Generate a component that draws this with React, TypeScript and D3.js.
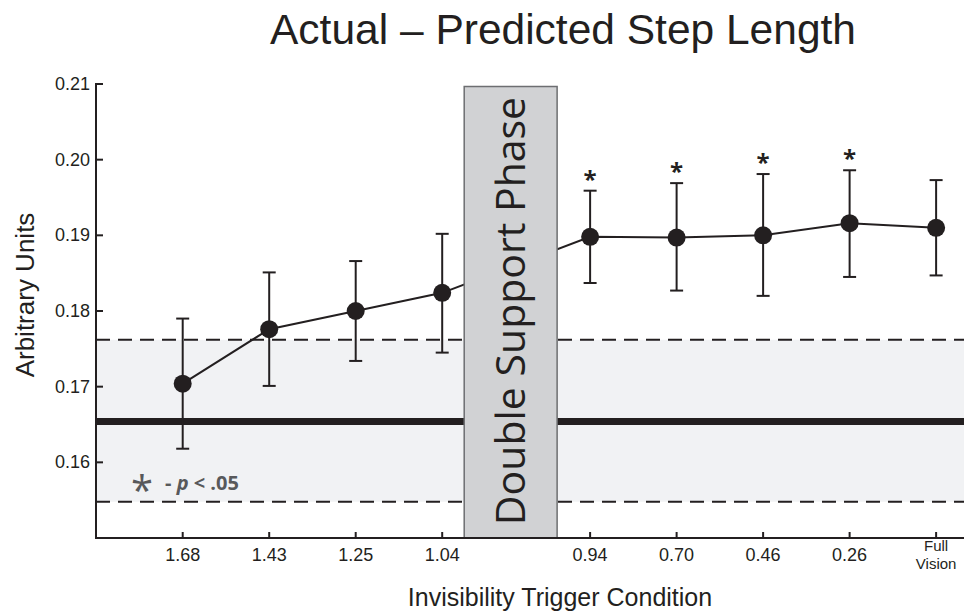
import React, { useEffect, useRef } from "react";
import * as d3 from "d3";

// trigger conditions on the x axis
const conditions = ["1.68", "1.43", "1.25", "1.04", "0.94", "0.70", "0.46", "0.26", "Full Vision"];
// mean actual - predicted step length
const means = [0.1704, 0.1776, 0.18, 0.1824, 0.1898, 0.1897, 0.19, 0.1916, 0.191];
// error bar ends
const errHigh = [0.179, 0.1851, 0.1866, 0.1902, 0.1959, 0.1969, 0.1981, 0.1986, 0.1973];
const errLow = [0.1618, 0.1701, 0.1734, 0.1745, 0.1837, 0.1827, 0.182, 0.1845, 0.1847];
const significant = [false, false, false, false, true, true, true, true, false];

// baseline band
const baselineMean = 0.1654;
const baselineHigh = 0.1762;
const baselineLow = 0.1548;

const yTicks = [0.16, 0.17, 0.18, 0.19, 0.2, 0.21];

const FONT = "'Liberation Sans', Arial, Helvetica, sans-serif";
const INK = "#231f20";

function App() {
  const svgRef = useRef<SVGSVGElement>(null);
  const width = 964;
  const height = 612;

  useEffect(() => {
    if (!svgRef.current) return;
    const svg = d3.select(svgRef.current);
    svg.selectAll("*").remove();

    const left = 96;
    const right = 964;
    const top = 84;
    const bottom = 538;

    // slot positions: a gap for the double support phase after the 4th condition
    const gap = 0.71;
    const slot = (i: number) => i + (i >= 4 ? gap : 0);

    const x = d3.scaleLinear().domain([0, 1]).range([182.7, 269.2]);
    const y = d3.scaleLinear().domain([0.15, 0.21]).range([bottom, top]);

    // shaded band
    svg
      .append("rect")
      .attr("x", left)
      .attr("y", y(baselineHigh))
      .attr("width", right - left)
      .attr("height", y(baselineLow) - y(baselineHigh))
      .attr("fill", "#f1f2f4");

    // dashed bounds
    [baselineHigh, baselineLow].forEach((v) => {
      svg
        .append("line")
        .attr("x1", left)
        .attr("x2", right)
        .attr("y1", y(v))
        .attr("y2", y(v))
        .attr("stroke", INK)
        .attr("stroke-width", 2)
        .attr("stroke-dasharray", "14,8");
    });

    // thick baseline
    svg
      .append("line")
      .attr("x1", left)
      .attr("x2", right)
      .attr("y1", y(baselineMean))
      .attr("y2", y(baselineMean))
      .attr("stroke", INK)
      .attr("stroke-width", 7);

    // legend
    svg
      .append("text")
      .attr("x", 142)
      .attr("y", 505)
      .attr("text-anchor", "middle")
      .style("font-family", "'Open Sans', sans-serif")
      .style("font-size", "40px")
      .style("fill", "#58595b")
      .text("*");
    const leg = svg
      .append("text")
      .attr("x", 165)
      .attr("y", 490)
      .style("font-family", "'Open Sans', sans-serif")
      .style("font-size", "20px")
      .style("font-weight", "bold")
      .style("fill", "#58595b");
    leg.append("tspan").text("- ");
    leg.append("tspan").style("font-style", "italic").text("p");
    leg.append("tspan").text(" < .05");

    // connecting line
    const line = d3
      .line<number>()
      .x((_, i) => x(slot(i)))
      .y((d) => y(d));
    svg
      .append("path")
      .attr("d", line(means))
      .attr("fill", "none")
      .attr("stroke", INK)
      .attr("stroke-width", 2);

    // error bars
    means.forEach((_, i) => {
      const cx = x(slot(i));
      const g = svg.append("g").attr("stroke", INK).attr("stroke-width", 2);
      g.append("line").attr("x1", cx).attr("x2", cx).attr("y1", y(errHigh[i])).attr("y2", y(errLow[i]));
      [errHigh[i], errLow[i]].forEach((v) => {
        g.append("line")
          .attr("x1", cx - 6.5)
          .attr("x2", cx + 6.5)
          .attr("y1", y(v))
          .attr("y2", y(v));
      });
    });

    // points
    svg
      .selectAll(".pt")
      .data(means)
      .enter()
      .append("circle")
      .attr("class", "pt")
      .attr("cx", (_, i) => x(slot(i)))
      .attr("cy", (d) => y(d))
      .attr("r", 9)
      .attr("fill", INK);

    // significance stars
    svg
      .selectAll(".star")
      .data(means.map((_, i) => i).filter((i) => significant[i]))
      .enter()
      .append("text")
      .attr("class", "star")
      .attr("x", (i) => x(slot(i)))
      .attr("y", (i) => y(errHigh[i]) - 3)
      .attr("text-anchor", "middle")
      .style("font-family", "'Open Sans', sans-serif")
      .style("font-size", "24px")
      .style("font-weight", "bold")
      .style("fill", INK)
      .text("*");

    // double support phase box
    const boxL = x(3) + 22;
    const boxR = x(slot(4)) - 33;
    svg
      .append("rect")
      .attr("x", boxL)
      .attr("y", 86.5)
      .attr("width", boxR - boxL)
      .attr("height", bottom - 86.5)
      .attr("fill", "#d1d2d4")
      .attr("stroke", "#6d6e71")
      .attr("stroke-width", 1.5);
    svg
      .append("text")
      .attr("transform", `translate(${(boxL + boxR) / 2 + 14}, 311) rotate(-90)`)
      .attr("text-anchor", "middle")
      .style("font-family", "'Open Sans', sans-serif")
      .style("font-size", "41px")
      .style("fill", INK)
      .text("Double Support Phase");

    // y axis
    svg
      .append("line")
      .attr("x1", left)
      .attr("x2", left)
      .attr("y1", top - 1)
      .attr("y2", bottom)
      .attr("stroke", INK)
      .attr("stroke-width", 2);
    yTicks.forEach((t) => {
      svg
        .append("line")
        .attr("x1", left)
        .attr("x2", left + 7)
        .attr("y1", y(t))
        .attr("y2", y(t))
        .attr("stroke", INK)
        .attr("stroke-width", 2);
      svg
        .append("text")
        .attr("x", left - 6)
        .attr("y", y(t) + 6)
        .attr("text-anchor", "end")
        .style("font-family", FONT)
        .style("font-size", "18px")
        .style("fill", INK)
        .text(t.toFixed(2));
    });

    // x axis
    svg
      .append("line")
      .attr("x1", left - 1)
      .attr("x2", right)
      .attr("y1", bottom)
      .attr("y2", bottom)
      .attr("stroke", INK)
      .attr("stroke-width", 2);
    conditions.forEach((c, i) => {
      const cx = x(slot(i));
      svg
        .append("line")
        .attr("x1", cx)
        .attr("x2", cx)
        .attr("y1", bottom)
        .attr("y2", bottom - 6)
        .attr("stroke", INK)
        .attr("stroke-width", 2);
      const words = c.split(" ");
      if (words.length === 1) {
        svg
          .append("text")
          .attr("text-anchor", "middle")
          .style("font-family", FONT)
          .style("font-size", "18px")
          .style("fill", INK)
          .attr("x", cx)
          .attr("y", bottom + 23)
          .text(c);
      } else {
        // stacked two-line label
        words.forEach((w, k) => {
          svg
            .append("text")
            .attr("text-anchor", "middle")
            .style("font-family", FONT)
            .style("font-size", "15px")
            .style("fill", INK)
            .attr("x", cx)
            .attr("y", bottom + 13 + k * 17.5)
            .text(w);
        });
      }
    });

    // titles
    svg
      .append("text")
      .attr("x", 563)
      .attr("y", 44)
      .attr("text-anchor", "middle")
      .style("font-family", FONT)
      .style("font-size", "42.5px")
      .style("fill", INK)
      .text("Actual \u2013 Predicted Step Length");

    svg
      .append("text")
      .attr("x", 560)
      .attr("y", 606)
      .attr("text-anchor", "middle")
      .style("font-family", FONT)
      .style("font-size", "25px")
      .style("fill", INK)
      .text("Invisibility Trigger Condition");

    svg
      .append("text")
      .attr("transform", "translate(34, 295) rotate(-90)")
      .attr("text-anchor", "middle")
      .style("font-family", FONT)
      .style("font-size", "26px")
      .style("fill", INK)
      .text("Arbitrary Units");
  }, []);

  return (
    <div style={{ position: "absolute", left: 0, top: 0, width, height, background: "#fff" }}>
      <svg ref={svgRef} width={width} height={height}></svg>
    </div>
  );
}

export default App;
